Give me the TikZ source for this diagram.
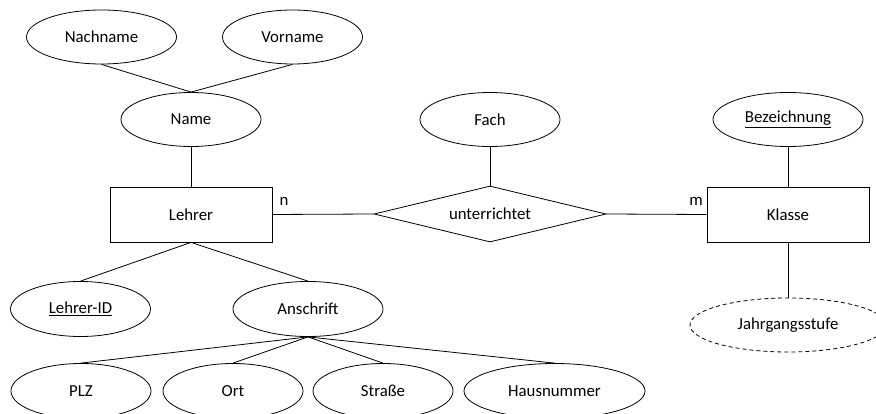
\documentclass[tikz,border=0pt]{standalone}
\usepackage{fontspec}
\setmainfont{Carlito}
\usetikzlibrary{shapes}

\begin{document}
\begin{tikzpicture}[x=1pt, y=-1pt, line width=0.8pt,
every node/.style = {ellipse, draw, align=center, inner sep=1pt,
                     minimum width=140pt, minimum height=54pt,
                     font=\fontsize{16.8}{20}\selectfont},
entity/.style = {rectangle, minimum width=162pt, minimum height=55pt},
relation/.style = {diamond, aspect=4.14, minimum width=232pt, minimum height=56pt},
weak attr/.style = {dash pattern=on 4pt off 3pt},
card/.style = {rectangle, draw=none, minimum width=0pt, minimum height=0pt, inner sep=0pt}]
\useasboundingbox (0,0) rectangle (876,414);
% entities and relationship
\node[entity] (Lehrer) at (191,214.5) {Lehrer};
\node[entity] (Klasse) at (788,214.5) {Klasse};
\node[relation] (unterrichtet) at (490,214) {unterrichtet};
\node[card] (nLehrer) at (284,201) {n};
\node[card] (mKlasse) at (696,201) {m};
% attributes
\node[minimum width=150pt] (Nachname) at (101.5,37) {Nachname};
\node (Vorname) at (292.5,37) {Vorname};
\node (Name) at (191,119.5) {Name};
\node (Fach) at (490,119.5) {Fach};
\node[minimum width=150pt] (Bezeichnung) at (788,119.5) {\underline{Bezeichnung}};
\node[weak attr, minimum width=196pt] (Jahrgangsstufe) at (788,325) {Jahrgangsstufe};
\node[minimum height=55pt] (LehrerID) at (80.5,309) {\underline{Lehrer-ID}};
\node[minimum width=150pt, minimum height=55pt] (Anschrift) at (308,309) {Anschrift};
\node[minimum height=55pt] (PLZ) at (81,391) {PLZ};
\node[minimum height=55pt] (Ort) at (233,391) {Ort};
\node[minimum height=55pt] (Strasse) at (383,391) {Straße};
\node[minimum width=181pt, minimum height=55pt] (Hausnummer) at (554.5,391) {Hausnummer};

\draw (Nachname.south) -- (Name.north);
\draw (Vorname.south) -- (Name.north);
\draw (Name.south) -- (Lehrer.north);
\draw (Lehrer.east) -- (unterrichtet.west);
\draw (Fach.south) -- (unterrichtet.north);
\draw (unterrichtet.east) -- (Klasse.west);
\draw (Bezeichnung.south) -- (Klasse.north);
\draw (Klasse.south) -- (Jahrgangsstufe.north);
\draw (Lehrer.south) -- (LehrerID.north);
\draw (Lehrer.south) -- (Anschrift.north);
\foreach \kid in {PLZ, Ort, Strasse, Hausnummer}
  \draw (Anschrift.south) -- (\kid.north);
\end{tikzpicture}
\end{document}
